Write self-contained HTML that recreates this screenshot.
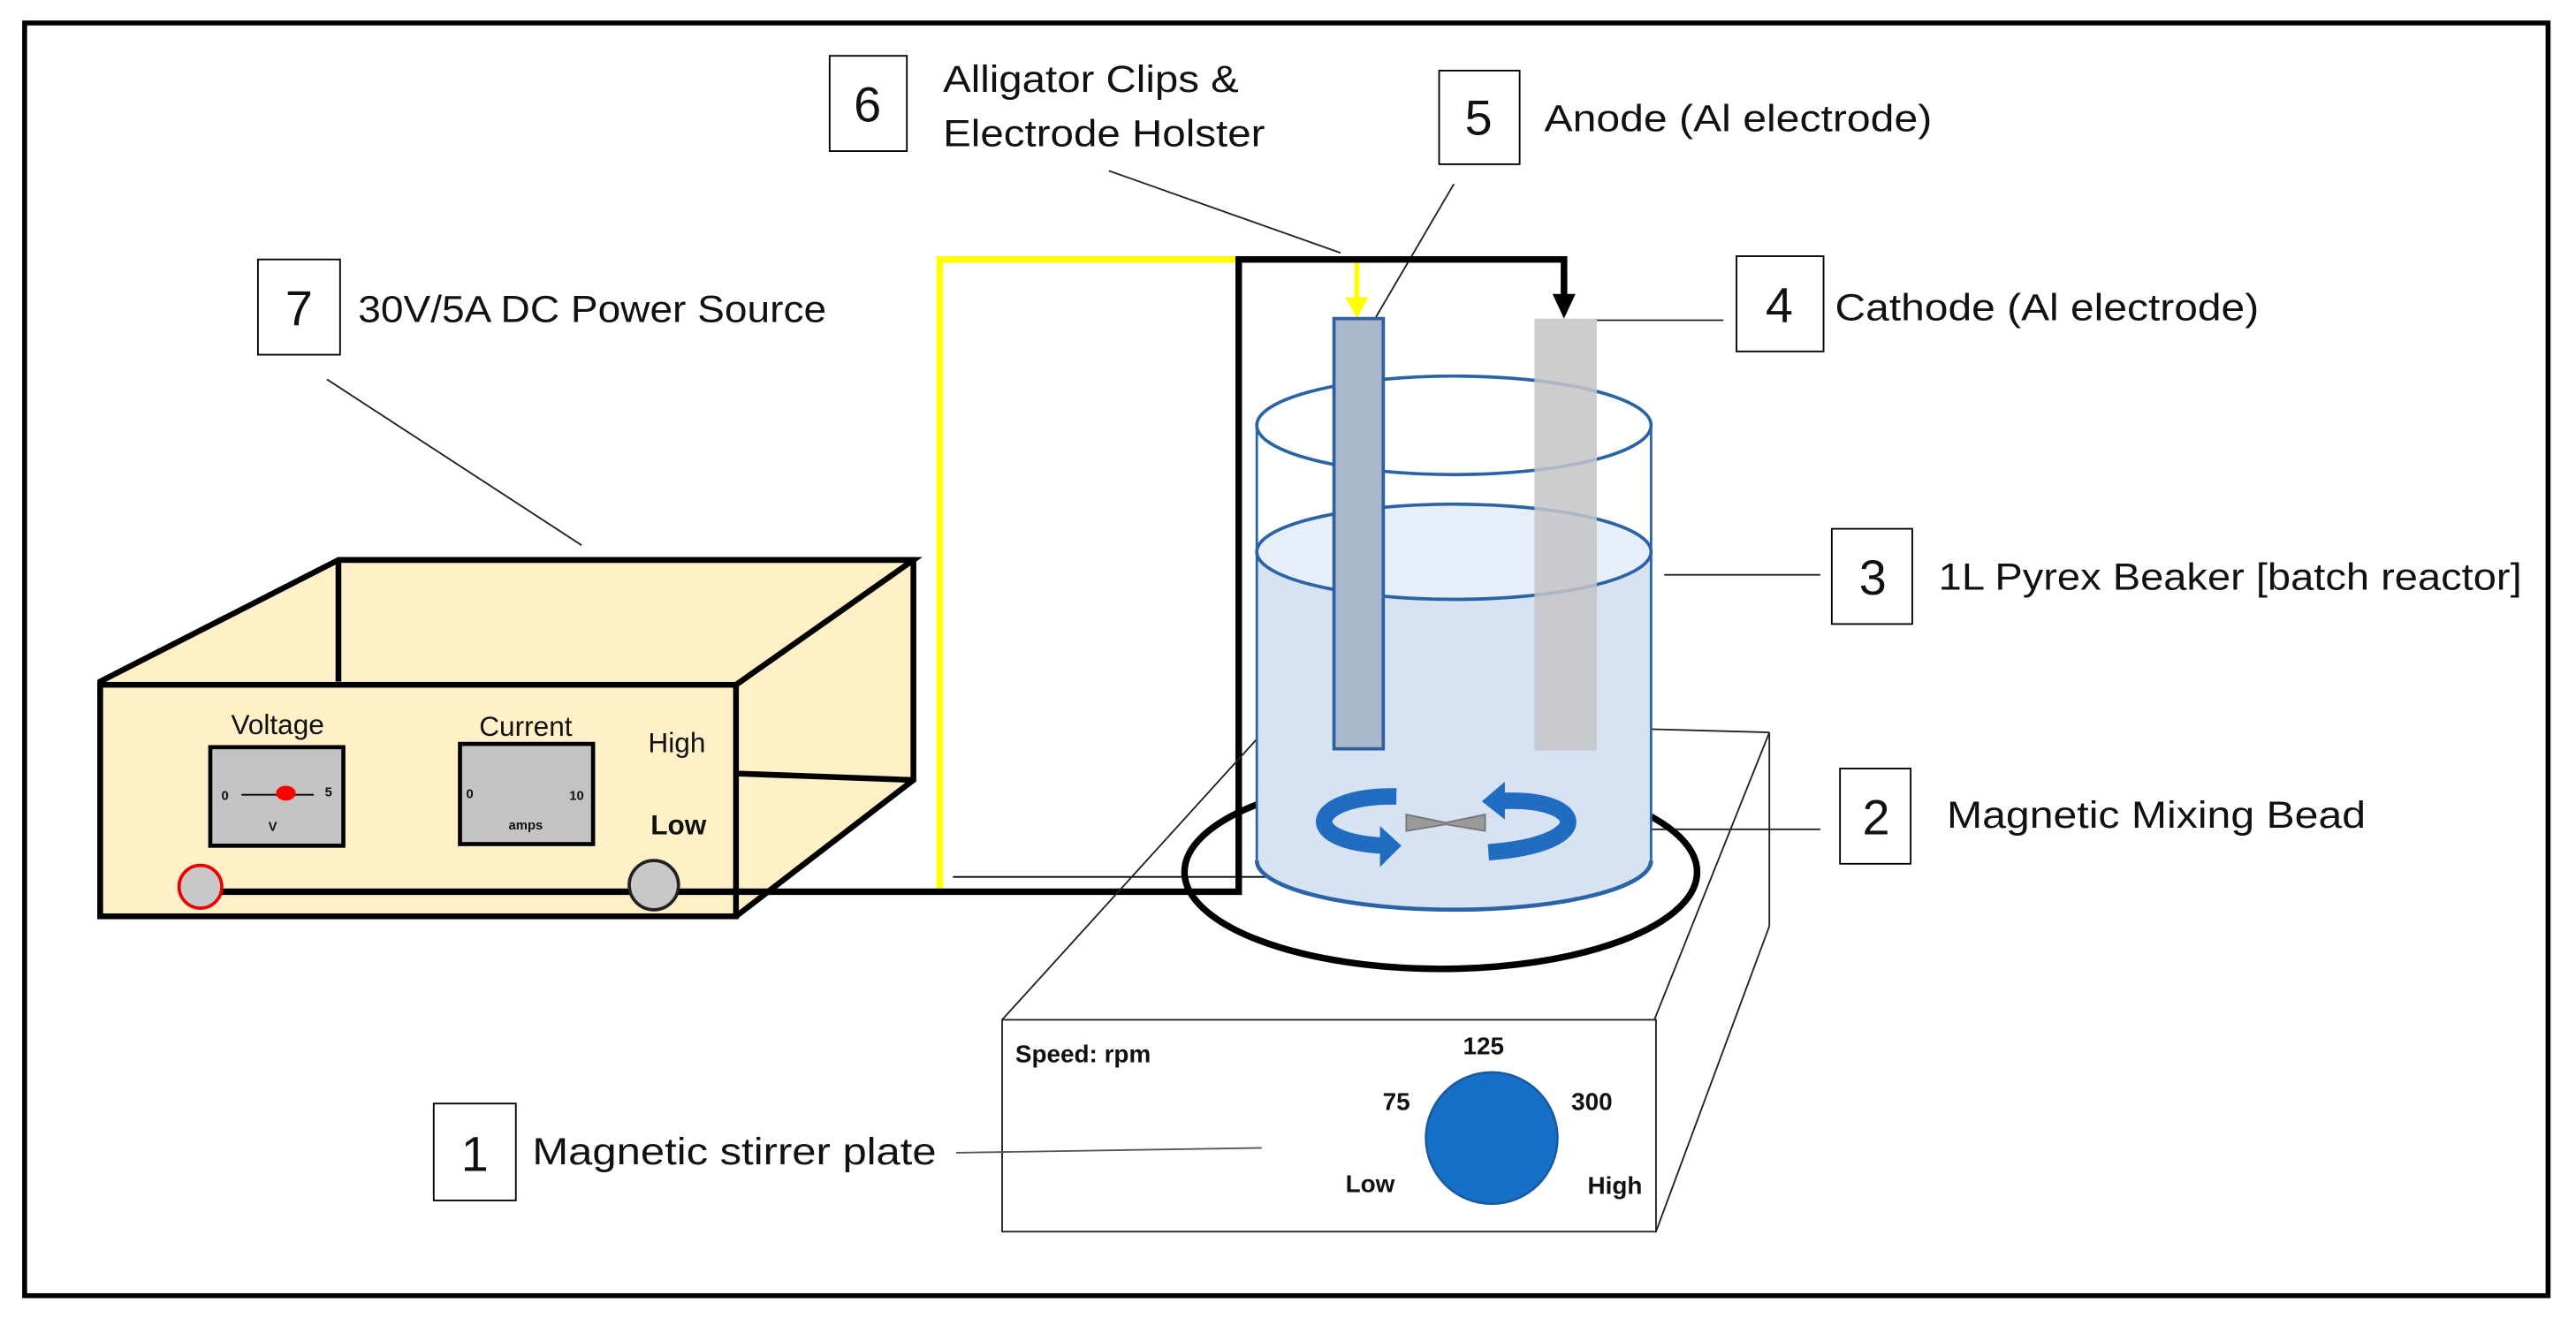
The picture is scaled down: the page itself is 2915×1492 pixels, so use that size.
<!DOCTYPE html>
<html><head><meta charset="utf-8"><style>
html,body{margin:0;padding:0;background:#fff;}
svg{display:block;}
text{font-family:"Liberation Sans",sans-serif;fill:#111;}
</style></head><body>
<svg width="2915" height="1492" viewBox="0 0 1568 802.6" preserveAspectRatio="none" xmlns="http://www.w3.org/2000/svg">
<rect x="0" y="0" width="1568" height="802.6" fill="#fff"/>
<rect x="15" y="14" width="1536" height="775" fill="none" stroke="#000" stroke-width="3"/>

<g fill="none" stroke="#000" stroke-width="1">
<rect x="505" y="34" width="47" height="58"/>
<rect x="876" y="43" width="49" height="57"/>
<rect x="157" y="158" width="50" height="58"/>
<rect x="1057" y="156" width="53" height="58"/>
<rect x="1115" y="322" width="49" height="58"/>
<rect x="1120" y="468" width="43" height="58"/>
<rect x="264" y="672" width="50" height="59"/>
</g>
<g font-size="30" text-anchor="middle">
<text x="528" y="74">6</text>
<text x="900" y="82">5</text>
<text x="182" y="198">7</text>
<text x="1083" y="196">4</text>
<text x="1140" y="362">3</text>
<text x="1142" y="508">2</text>
<text x="289" y="713">1</text>
</g>
<g font-size="23">
<text x="574" y="56" textLength="180" lengthAdjust="spacingAndGlyphs">Alligator Clips &amp;</text>
<text x="574" y="89" textLength="196" lengthAdjust="spacingAndGlyphs">Electrode Holster</text>
<text x="940" y="80" textLength="236" lengthAdjust="spacingAndGlyphs">Anode (Al electrode)</text>
<text x="218" y="196" textLength="285" lengthAdjust="spacingAndGlyphs">30V/5A DC Power Source</text>
<text x="1117" y="195" textLength="258" lengthAdjust="spacingAndGlyphs">Cathode (Al electrode)</text>
<text x="1180" y="359" textLength="355" lengthAdjust="spacingAndGlyphs">1L Pyrex Beaker [batch reactor]</text>
<text x="1185" y="504" textLength="255" lengthAdjust="spacingAndGlyphs">Magnetic Mixing Bead</text>
<text x="324" y="709" textLength="246" lengthAdjust="spacingAndGlyphs">Magnetic stirrer plate</text>
</g>

<g stroke="#222" stroke-width="1" fill="none">
<line x1="199" y1="231" x2="354" y2="332"/>
<line x1="675" y1="104" x2="816" y2="154"/>
<line x1="885" y1="112" x2="837" y2="194"/>
<line x1="972" y1="195" x2="1049" y2="195"/>
<line x1="1013" y1="350" x2="1108" y2="350"/>
<line x1="977" y1="505" x2="1108" y2="505"/>
</g>

<g stroke="#000" stroke-width="3.5" fill="#fff0c8" stroke-linejoin="miter">
<polygon points="61,415 206,341 556,341 556,475 448,558 61,558"/>
<polyline points="206,341 206,415" fill="none"/>
<polyline points="206,341 556,341 448,417" fill="none"/>
<line x1="448" y1="471" x2="556" y2="475"/>
<rect x="61" y="417" width="387" height="141"/>
</g>
<g stroke="#000" stroke-width="2.5" fill="#c3c3c3">
<rect x="128" y="455" width="81" height="60"/>
<rect x="280" y="453" width="81" height="61"/>
</g>
<line x1="147" y1="484" x2="191" y2="484" stroke="#000" stroke-width="1"/>
<ellipse cx="174" cy="483" rx="6" ry="4.5" fill="#f00"/>
<g font-size="8" font-weight="bold" text-anchor="middle">
<text x="137" y="487">0</text><text x="200" y="485">5</text><text x="166" y="506">V</text>
<text x="286" y="486">0</text><text x="351" y="487">10</text><text x="320" y="505">amps</text>
</g>
<g font-size="17" text-anchor="middle">
<text x="169" y="447">Voltage</text>
<text x="320" y="448">Current</text>
<text x="412" y="458">High</text>
<text x="413" y="508" font-weight="bold">Low</text>
</g>

<polyline points="572,543 572,158 754,158" fill="none" stroke="#ffff00" stroke-width="4"/>
<line x1="826" y1="158" x2="826" y2="184" stroke="#ffff00" stroke-width="3"/>
<polygon points="819,181 833,181 826,194" fill="#ffff00"/>
<polyline points="122,543 754,543 754,158 952,158 952,182" fill="none" stroke="#000" stroke-width="4"/>
<polygon points="945,179 959,179 952,194" fill="#000"/>
<circle cx="122" cy="540" r="13" fill="#c8c8c8" stroke="#e00" stroke-width="2"/>
<circle cx="398" cy="539" r="15" fill="#c8c8c8" stroke="#222" stroke-width="2"/>
<line x1="580" y1="534" x2="818" y2="534" stroke="#000" stroke-width="1"/>

<g stroke="#222" stroke-width="1" fill="none">
<line x1="610" y1="621" x2="766" y2="449"/>
<line x1="1004" y1="444" x2="1077" y2="446"/>
<line x1="1077" y1="446" x2="1077" y2="564"/>
<line x1="1077" y1="446" x2="1007" y2="621"/>
<line x1="1077" y1="564" x2="1008" y2="750"/>
<rect x="610" y="621" width="398" height="129" fill="#fff"/>
</g>
<line x1="582" y1="702" x2="768" y2="699" stroke="#555" stroke-width="1"/>
<ellipse cx="877" cy="531" rx="156" ry="59" fill="none" stroke="#000" stroke-width="4"/>
<circle cx="908" cy="693" r="40" fill="#1670c8" stroke="#1a5aa0" stroke-width="1.5"/>
<g font-size="15" font-weight="bold">
<text x="618" y="647">Speed: rpm</text>
<text x="903" y="642" text-anchor="middle">125</text>
<text x="850" y="676" text-anchor="middle">75</text>
<text x="969" y="676" text-anchor="middle">300</text>
<text x="834" y="726" text-anchor="middle">Low</text>
<text x="983" y="727" text-anchor="middle">High</text>
</g>

<path d="M765,336 L765,524 A120,30 0 0 0 1005,524 L1005,336 Z" fill="#d7e3f3"/>
<ellipse cx="885" cy="336" rx="120" ry="29" fill="#e6eef8" stroke="#2a63a6" stroke-width="2"/>
<path d="M765,524 A120,30 0 0 0 1005,524" fill="none" stroke="#2a63a6" stroke-width="2.5"/>
<line x1="765" y1="259" x2="765" y2="524" stroke="#2a63a6" stroke-width="1.5"/>
<line x1="1005" y1="259" x2="1005" y2="524" stroke="#2a63a6" stroke-width="1.5"/>
<ellipse cx="885" cy="259" rx="120" ry="30" fill="none" stroke="#2a63a6" stroke-width="2"/>
<rect x="934" y="194" width="38" height="263" fill="#c4c4c8" opacity="0.85"/>
<rect x="812" y="194" width="30" height="262" fill="#a9b9cb" stroke="#2f5f9e" stroke-width="2"/>

<polygon points="856,496 880,501 904,496 904,506 880,502 856,506" fill="#9a9a9a" stroke="#777" stroke-width="1"/>
<g fill="none" stroke="#1f6cc0" stroke-width="10">
<path d="M850,485 C798,484 788,512 842,515"/>
<path d="M910,488 C966,484 974,514 906,519"/>
</g>
<polygon points="840,503 853,515 840,528" fill="#1f6cc0"/>
<polygon points="916,476 902,488 916,499" fill="#1f6cc0"/>
</svg>
</body></html>
